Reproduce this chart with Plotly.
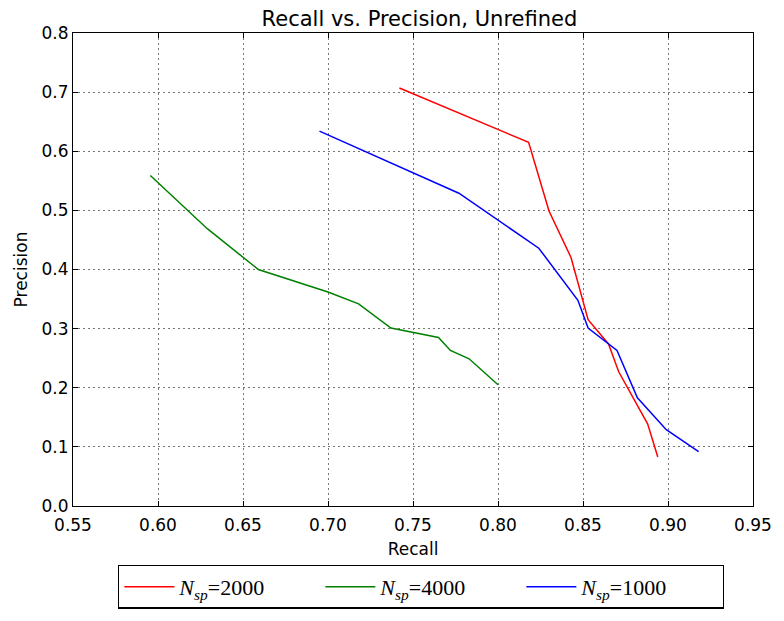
import plotly.graph_objects as go

# Data
recall_2000 = [0.742, 0.818, 0.830, 0.843, 0.853, 0.865, 0.871, 0.888, 0.894]
precision_2000 = [0.707, 0.615, 0.499, 0.420, 0.315, 0.274, 0.227, 0.139, 0.083]

recall_4000 = [0.5955, 0.617, 0.629, 0.659, 0.700, 0.718, 0.737, 0.765, 0.772, 0.783, 0.800]
precision_4000 = [0.559, 0.502, 0.469, 0.400, 0.362, 0.342, 0.301, 0.285, 0.263, 0.249, 0.205]

recall_1000 = [0.695, 0.777, 0.824, 0.847, 0.853, 0.870, 0.882, 0.899, 0.918]
precision_1000 = [0.634, 0.529, 0.436, 0.348, 0.301, 0.263, 0.183, 0.129, 0.092]

x_ticks = [0.55, 0.60, 0.65, 0.70, 0.75, 0.80, 0.85, 0.90, 0.95]
y_ticks = [0.0, 0.1, 0.2, 0.3, 0.4, 0.5, 0.6, 0.7, 0.8]

series = [
    ("<i>N</i><sub><i>sp</i></sub>=2000", recall_2000, precision_2000, "#ff0000"),
    ("<i>N</i><sub><i>sp</i></sub>=4000", recall_4000, precision_4000, "#008000"),
    ("<i>N</i><sub><i>sp</i></sub>=1000", recall_1000, precision_1000, "#0000ff"),
]

fig = go.Figure()
for name, xs, ys, col in series:
    fig.add_trace(go.Scatter(x=xs, y=ys, mode="lines", name=name,
                             line=dict(color=col, width=1.5)))

axis_common = dict(
    showline=True, linecolor="black", linewidth=1.2, mirror="ticks",
    ticks="inside", ticklen=5, tickcolor="black", tickwidth=1,
    showgrid=True, gridcolor="#777777", griddash="2px,3px", gridwidth=0.8,
    zeroline=False,
    tickfont=dict(family="DejaVu Sans", size=17, color="black"),
)

fig.update_xaxes(range=[0.55, 0.95], tickvals=x_ticks,
                 ticktext=[f"{v:.2f}" for v in x_ticks],
                 ticklabelstandoff=3,
                 title=dict(text="Recall", font=dict(family="DejaVu Sans", size=17, color="black"), standoff=9),
                 **axis_common)
fig.update_yaxes(range=[0.0, 0.8], tickvals=y_ticks,
                 ticktext=[f"{v:.1f}" for v in y_ticks],
                 title=dict(text="Precision", font=dict(family="DejaVu Sans", size=17, color="black"), standoff=9),
                 **axis_common)

fig.update_layout(
    width=784, height=621,
    margin=dict(l=73, r=20, t=33, b=105),
    paper_bgcolor="white", plot_bgcolor="white",
    title=dict(text="Recall vs. Precision, Unrefined", x=0.535, xanchor="center",
               y=0.97, yanchor="middle",
               font=dict(family="DejaVu Sans", size=21, color="black")),
    legend=dict(orientation="h", x=0.512, xanchor="center", y=-0.124, yanchor="top",
                bordercolor="black", borderwidth=1.2, bgcolor="white",
                font=dict(family="Liberation Serif", size=22, color="black"),
                entrywidth=136, entrywidthmode="pixels", itemwidth=50),
    showlegend=True,
)

fig.write_html("out.html")
